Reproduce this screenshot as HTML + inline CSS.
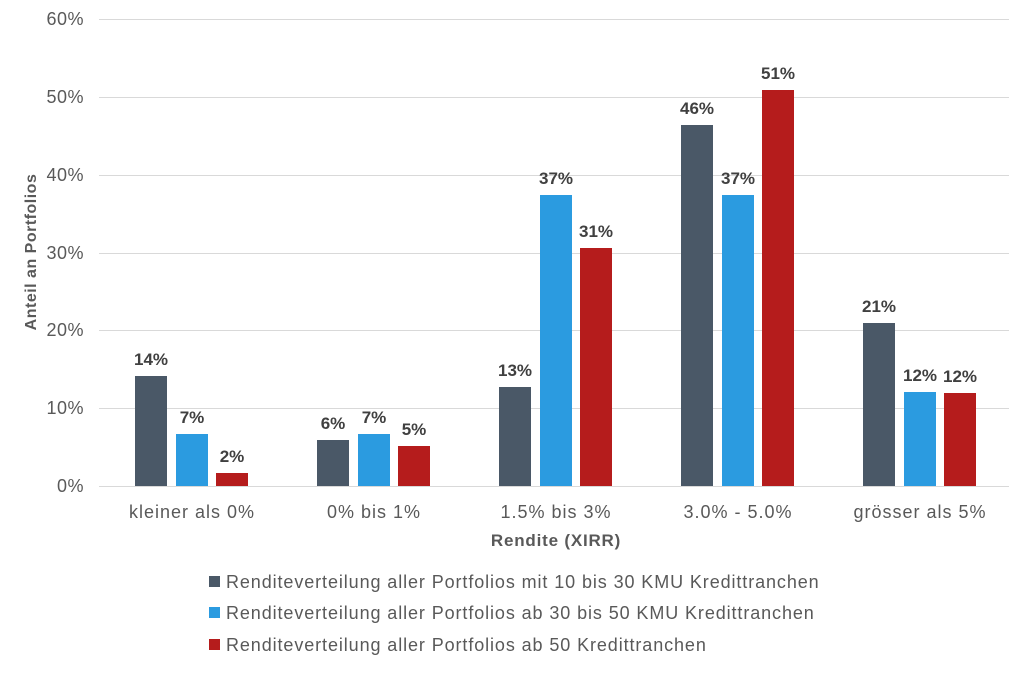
<!DOCTYPE html>
<html><head><meta charset="utf-8"><style>
body{margin:0;background:#fff;}
svg text{font-family:"Liberation Sans",sans-serif;}
</style></head><body>
<svg width="1024" height="669" viewBox="0 0 1024 669" xmlns="http://www.w3.org/2000/svg">
<g stroke="#d9d9d9" stroke-width="1">
<line x1="99" x2="1009" y1="19.5" y2="19.5"/>
<line x1="99" x2="1009" y1="97.5" y2="97.5"/>
<line x1="99" x2="1009" y1="175.5" y2="175.5"/>
<line x1="99" x2="1009" y1="253.5" y2="253.5"/>
<line x1="99" x2="1009" y1="330.5" y2="330.5"/>
<line x1="99" x2="1009" y1="408.5" y2="408.5"/>
<line x1="99" x2="1009" y1="486.5" y2="486.5"/>
</g>
<g fill="#595959" font-size="18" text-anchor="end" letter-spacing="0.5">
<text x="84" y="25">60%</text><text x="84" y="103">50%</text><text x="84" y="181">40%</text>
<text x="84" y="259">30%</text><text x="84" y="336">20%</text><text x="84" y="414">10%</text>
<text x="84" y="492">0%</text>
</g>
<text transform="translate(36,252) rotate(-90)" text-anchor="middle" font-size="16" font-weight="bold" fill="#595959" letter-spacing="0.5">Anteil an Portfolios</text>
<g fill="#4a5867">
<rect x="135" y="376" width="32" height="110"/><rect x="317" y="440" width="32" height="46"/>
<rect x="499" y="387" width="32" height="99"/><rect x="681" y="125" width="32" height="361"/>
<rect x="863" y="323" width="32" height="163"/>
</g>
<g fill="#2b9be0">
<rect x="176" y="434" width="32" height="52"/><rect x="358" y="434" width="32" height="52"/>
<rect x="540" y="195" width="32" height="291"/><rect x="722" y="195" width="32" height="291"/>
<rect x="904" y="392" width="32" height="94"/>
</g>
<g fill="#b51c1c">
<rect x="216" y="473" width="32" height="13"/><rect x="398" y="446" width="32" height="40"/>
<rect x="580" y="248" width="32" height="238"/><rect x="762" y="90" width="32" height="396"/>
<rect x="944" y="393" width="32" height="93"/>
</g>
<g fill="#404040" font-size="17" font-weight="bold" text-anchor="middle">
<text x="151" y="365">14%</text><text x="192" y="423">7%</text><text x="232" y="462">2%</text>
<text x="333" y="429">6%</text><text x="374" y="423">7%</text><text x="414" y="435">5%</text>
<text x="515" y="376">13%</text><text x="556" y="184">37%</text><text x="596" y="237">31%</text>
<text x="697" y="114">46%</text><text x="738" y="184">37%</text><text x="778" y="79">51%</text>
<text x="879" y="312">21%</text><text x="920" y="381">12%</text><text x="960" y="382">12%</text>
</g>
<g fill="#595959" font-size="18" text-anchor="middle" letter-spacing="1">
<text x="192" y="518">kleiner als 0%</text><text x="374" y="518">0% bis 1%</text>
<text x="556" y="518">1.5% bis 3%</text><text x="738" y="518">3.0% - 5.0%</text>
<text x="920" y="518">grösser als 5%</text>
</g>
<text x="556" y="546" text-anchor="middle" font-size="17" font-weight="bold" fill="#595959" letter-spacing="0.8">Rendite (XIRR)</text>
<rect x="209" y="576" width="11" height="11" fill="#4a5867"/>
<rect x="209" y="607" width="11" height="11" fill="#2b9be0"/>
<rect x="209" y="639" width="11" height="11" fill="#b51c1c"/>
<g fill="#595959" font-size="18" letter-spacing="0.9">
<text x="226" y="588">Renditeverteilung aller Portfolios mit 10 bis 30 KMU Kredittranchen</text>
<text x="226" y="619">Renditeverteilung aller Portfolios ab 30 bis 50 KMU Kredittranchen</text>
<text x="226" y="651">Renditeverteilung aller Portfolios ab 50 Kredittranchen</text>
</g>
</svg>
</body></html>
